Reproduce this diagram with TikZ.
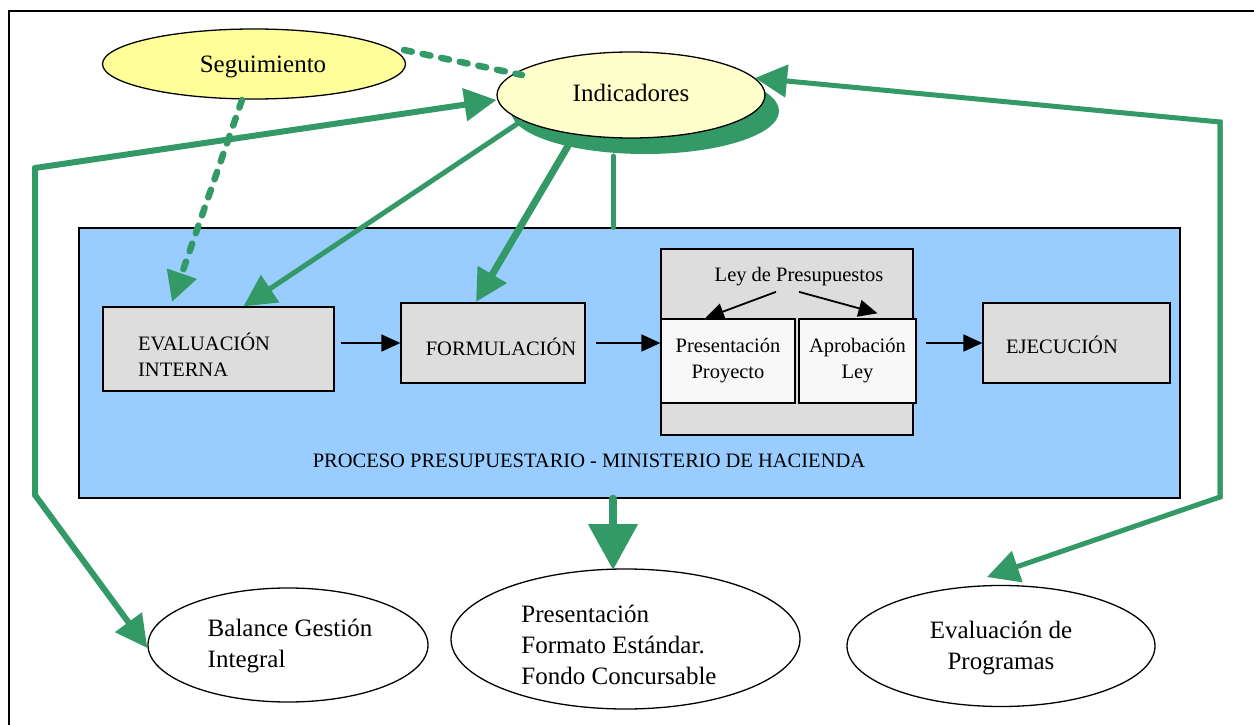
\documentclass[tikz,border=0pt]{standalone}
\usepackage{fontspec}
\setmainfont{Liberation Serif}
\usetikzlibrary{arrows.meta,shapes.geometric,calc}
\definecolor{grn}{RGB}{51,153,102}
\definecolor{blu}{RGB}{153,204,255}
\definecolor{gry}{RGB}{221,221,221}
\definecolor{ylw}{RGB}{255,255,153}
\definecolor{lyw}{RGB}{255,255,204}
\definecolor{wht}{RGB}{248,248,248}
\begin{document}
\begin{tikzpicture}[x=1pt,y=-1pt,
  oval/.style={ellipse, draw=black, line width=1.3pt, inner sep=0pt},
  pbox/.style={rectangle, draw=black, line width=1.3pt, fill=gry, inner sep=0pt},
  big/.style={font=\rmfamily\fontsize{25}{31}\selectfont},
  small/.style={font=\rmfamily\fontsize{20.5}{26}\selectfont},
  gline/.style={draw=grn, line width=#1, line cap=round},
  gtip/.style={-{Triangle[length=32pt,width=32pt]}},
  barrow/.style={draw=black, line width=1.8pt, -{Triangle[length=19pt,width=17pt]}},
  gdash/.style={draw=grn, line width=6.5pt, line cap=round, dash pattern=on 8pt off 11pt}]
\useasboundingbox (0,0) rectangle (1254,725);
\fill[white] (0,0) rectangle (1254,725);
\draw[line width=1.3pt] (1270,11) -- (9,11) -- (9,740);

% process box
\node[pbox, fill=blu, minimum width=1101pt, minimum height=270pt] (proc) at (629.5,363) {};
\node[small] (proclbl) at (589,461) {PROCESO PRESUPUESTARIO - MINISTERIO DE HACIENDA};

\node[pbox, minimum width=231pt, minimum height=84pt] (eval) at (218.5,349) {};
\node[small, align=left] (evaltxt) at (204,355) {EVALUACIÓN\\INTERNA};
\node[pbox, minimum width=184pt, minimum height=80pt] (form) at (493,343) {};
\node[small] (formtxt) at (501,347) {FORMULACIÓN};
\node[pbox, minimum width=252pt, minimum height=186pt] (ley) at (787,342) {};
\node[small] (leytxt) at (799,277) {Ley de Presupuestos};
\node[pbox, fill=wht, minimum width=134pt, minimum height=84pt, small, align=center] (pres) at (728,361) {Presentación\\Proyecto};
\node[pbox, fill=wht, minimum width=117pt, minimum height=84pt, small, align=center] (aprob) at (857.5,361) {Aprobación\\Ley};
\node[pbox, minimum width=187pt, minimum height=80pt] (ejec) at (1076.5,343) {};
\node[small] (ejectxt) at (1062,345) {EJECUCIÓN};

\draw[barrow] ([xshift=6pt]eval.east |- form.west) -- (form.west);
\draw[barrow] ([xshift=10pt]form.east) -- (form.east -| pres.west);
\draw[barrow] ([xshift=9pt]aprob.east |- ejec.west) -- (ejec.west);
\draw[barrow] ([xshift=-23pt,yshift=-2pt]leytxt.south) -- ([xshift=-23pt]pres.north);
\draw[barrow] ([xshift=0pt,yshift=-2pt]leytxt.south) -- ([xshift=20pt,yshift=5pt]aprob.north);

% ellipses
\node[ellipse, fill=grn, inner sep=0pt, minimum width=268pt, minimum height=86pt] (indsh) at (645,111) {};
\node[oval, fill=lyw, minimum width=268pt, minimum height=86pt] (ind) at (631,95) {};
\node[big] (indtxt) at (631,93) {Indicadores};
\node[oval, fill=ylw, minimum width=303pt, minimum height=70pt] (seg) at (254,64) {};
\node[big] (segtxt) at (263,67) {Seguimiento};
\node[oval, minimum width=280pt, minimum height=114pt] (bal) at (288,645) {};
\node[big, align=left] (baltxt) at (290,646) {Balance Gestión\\Integral};
\node[oval, minimum width=349pt, minimum height=140pt] (pfe) at (625.5,639) {};
\node[big, align=left] (pfetxt) at (619,645) {Presentación\\Formato Estándar.\\Fondo Concursable};
\node[oval, minimum width=308pt, minimum height=121pt] (evp) at (1001,646) {};
\node[big, align=center] (evptxt) at (1001,648) {Evaluación de\\Programas};

% coordinates
\coordinate (cl1) at (35,168);
\coordinate (cl2) at (35,495);
\coordinate (cr1) at (1220,122);
\coordinate (cr2) at (1220,497);

% green connectors
\draw[gline=6pt, gtip] (cl1) -- ([yshift=-5pt]ind.west);
\draw[gline=6pt, gtip] (cl1) -- (cl2) -- ([yshift=-3pt]bal.west);
\draw[gline=5pt, gtip] (cr2) -- (cr1) -- (755,78);
\draw[gline=5pt, gtip] (cr1) -- (cr2) -- (987,577);
\draw[gline=5pt, gtip] (520,122) -- ([xshift=25pt]eval.north);
\draw[gline=7pt, gtip] (568,146) -- (476,302);
\draw[gline=5pt] (613,156) -- ([xshift=-16.5pt]proc.north);
\draw[gline=8pt, -{Triangle[length=46pt,width=48pt]}] ([xshift=-16.5pt]proc.south) -- (613,570);
\draw[gdash] (404,50) -- (522,75);
\draw[gdash, -{Triangle[length=30pt,width=30pt]}] (242,100) -- (172,302);
\end{tikzpicture}
\end{document}
